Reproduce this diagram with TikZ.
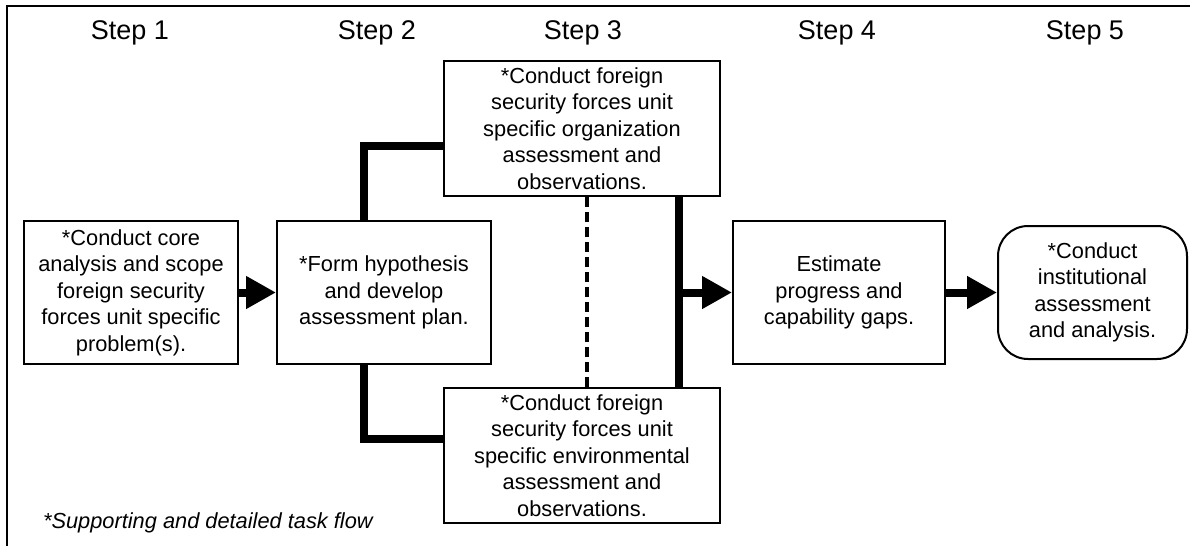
\documentclass[tikz,border=0pt]{standalone}
\usepackage{fontspec}
\setmainfont{Liberation Sans}
\usetikzlibrary{arrows.meta, positioning, calc}

\begin{document}
\begin{tikzpicture}[
  x=0.5pt, y=-0.5pt,
  every node/.style={font=\fontsize{10.9pt}{13.25pt}\selectfont},
  steplabel/.style={font=\fontsize{13.5pt}{16pt}\selectfont},
  stepbox/.style={draw, line width=1pt, align=center, inner sep=0pt, minimum width=107pt, minimum height=71.5pt},
  wide/.style={stepbox, minimum width=138pt, minimum height=67.5pt},
  endbox/.style={stepbox, rounded corners=15pt, minimum width=94.5pt, minimum height=66.5pt},
  link/.style={line width=4pt},
  flow/.style={link, -{Triangle[length=15pt, width=15.5pt]}},
  hint/.style={line width=2.2pt, dash pattern=on 5pt off 2.5pt}
]
  \useasboundingbox (0,0) rectangle (1190,546);
  \draw[line width=1.4pt] (7,546) -- (7,6) -- (1190,6);

  % step headings
  \node[steplabel] (s1) at (130,33) {Step 1};
  \node[steplabel] (s2) at (377,33) {Step 2};
  \node[steplabel] (s3) at (583,33) {Step 3};
  \node[steplabel] (s4) at (837,33) {Step 4};
  \node[steplabel] (s5) at (1085,33) {Step 5};

  \node[stepbox] (core) at (131,292.5) {*Conduct core\\analysis and scope\\foreign security\\forces unit specific\\problem(s).};
  \node[stepbox] (hyp) at (384,292.5) {*Form hypothesis\\and develop\\assessment plan.};
  \node[wide] (org) at (582,128.5) {*Conduct foreign\\security forces unit\\specific organization\\assessment and\\observations.};
  \node[wide] (env) at (582,455.5) {*Conduct foreign\\security forces unit\\specific environmental\\assessment and\\observations.};
  \node[stepbox, minimum width=106pt] (est) at (839,292.5) {Estimate\\progress and\\capability gaps.};
  \node[endbox] (inst) at (1092.5,292.5) {*Conduct\\institutional\\assessment\\and analysis.};

  \node[anchor=west, font=\fontsize{10.9pt}{13.25pt}\selectfont\itshape] (note) at (36,523) {*Supporting and detailed task flow};

  \draw[flow] (core) -- (hyp);
  \draw[link] ([xshift=-10pt]hyp.north) |- ([yshift=-8.75pt]org.west);
  \draw[link] ([xshift=-10pt]hyp.south) |- ([yshift=8.25pt]env.west);
  \draw[hint] ([xshift=2.5pt]org.south) -- ([xshift=2.5pt]env.north);
  \draw[link] ([xshift=48.5pt]org.south) -- ([xshift=48.5pt]env.north);
  \coordinate (join) at ([xshift=48.5pt]org.south |- est.west);
  \draw[flow] (join) -- (est.west);
  \draw[flow] (est) -- (inst);

\end{tikzpicture}
\end{document}
